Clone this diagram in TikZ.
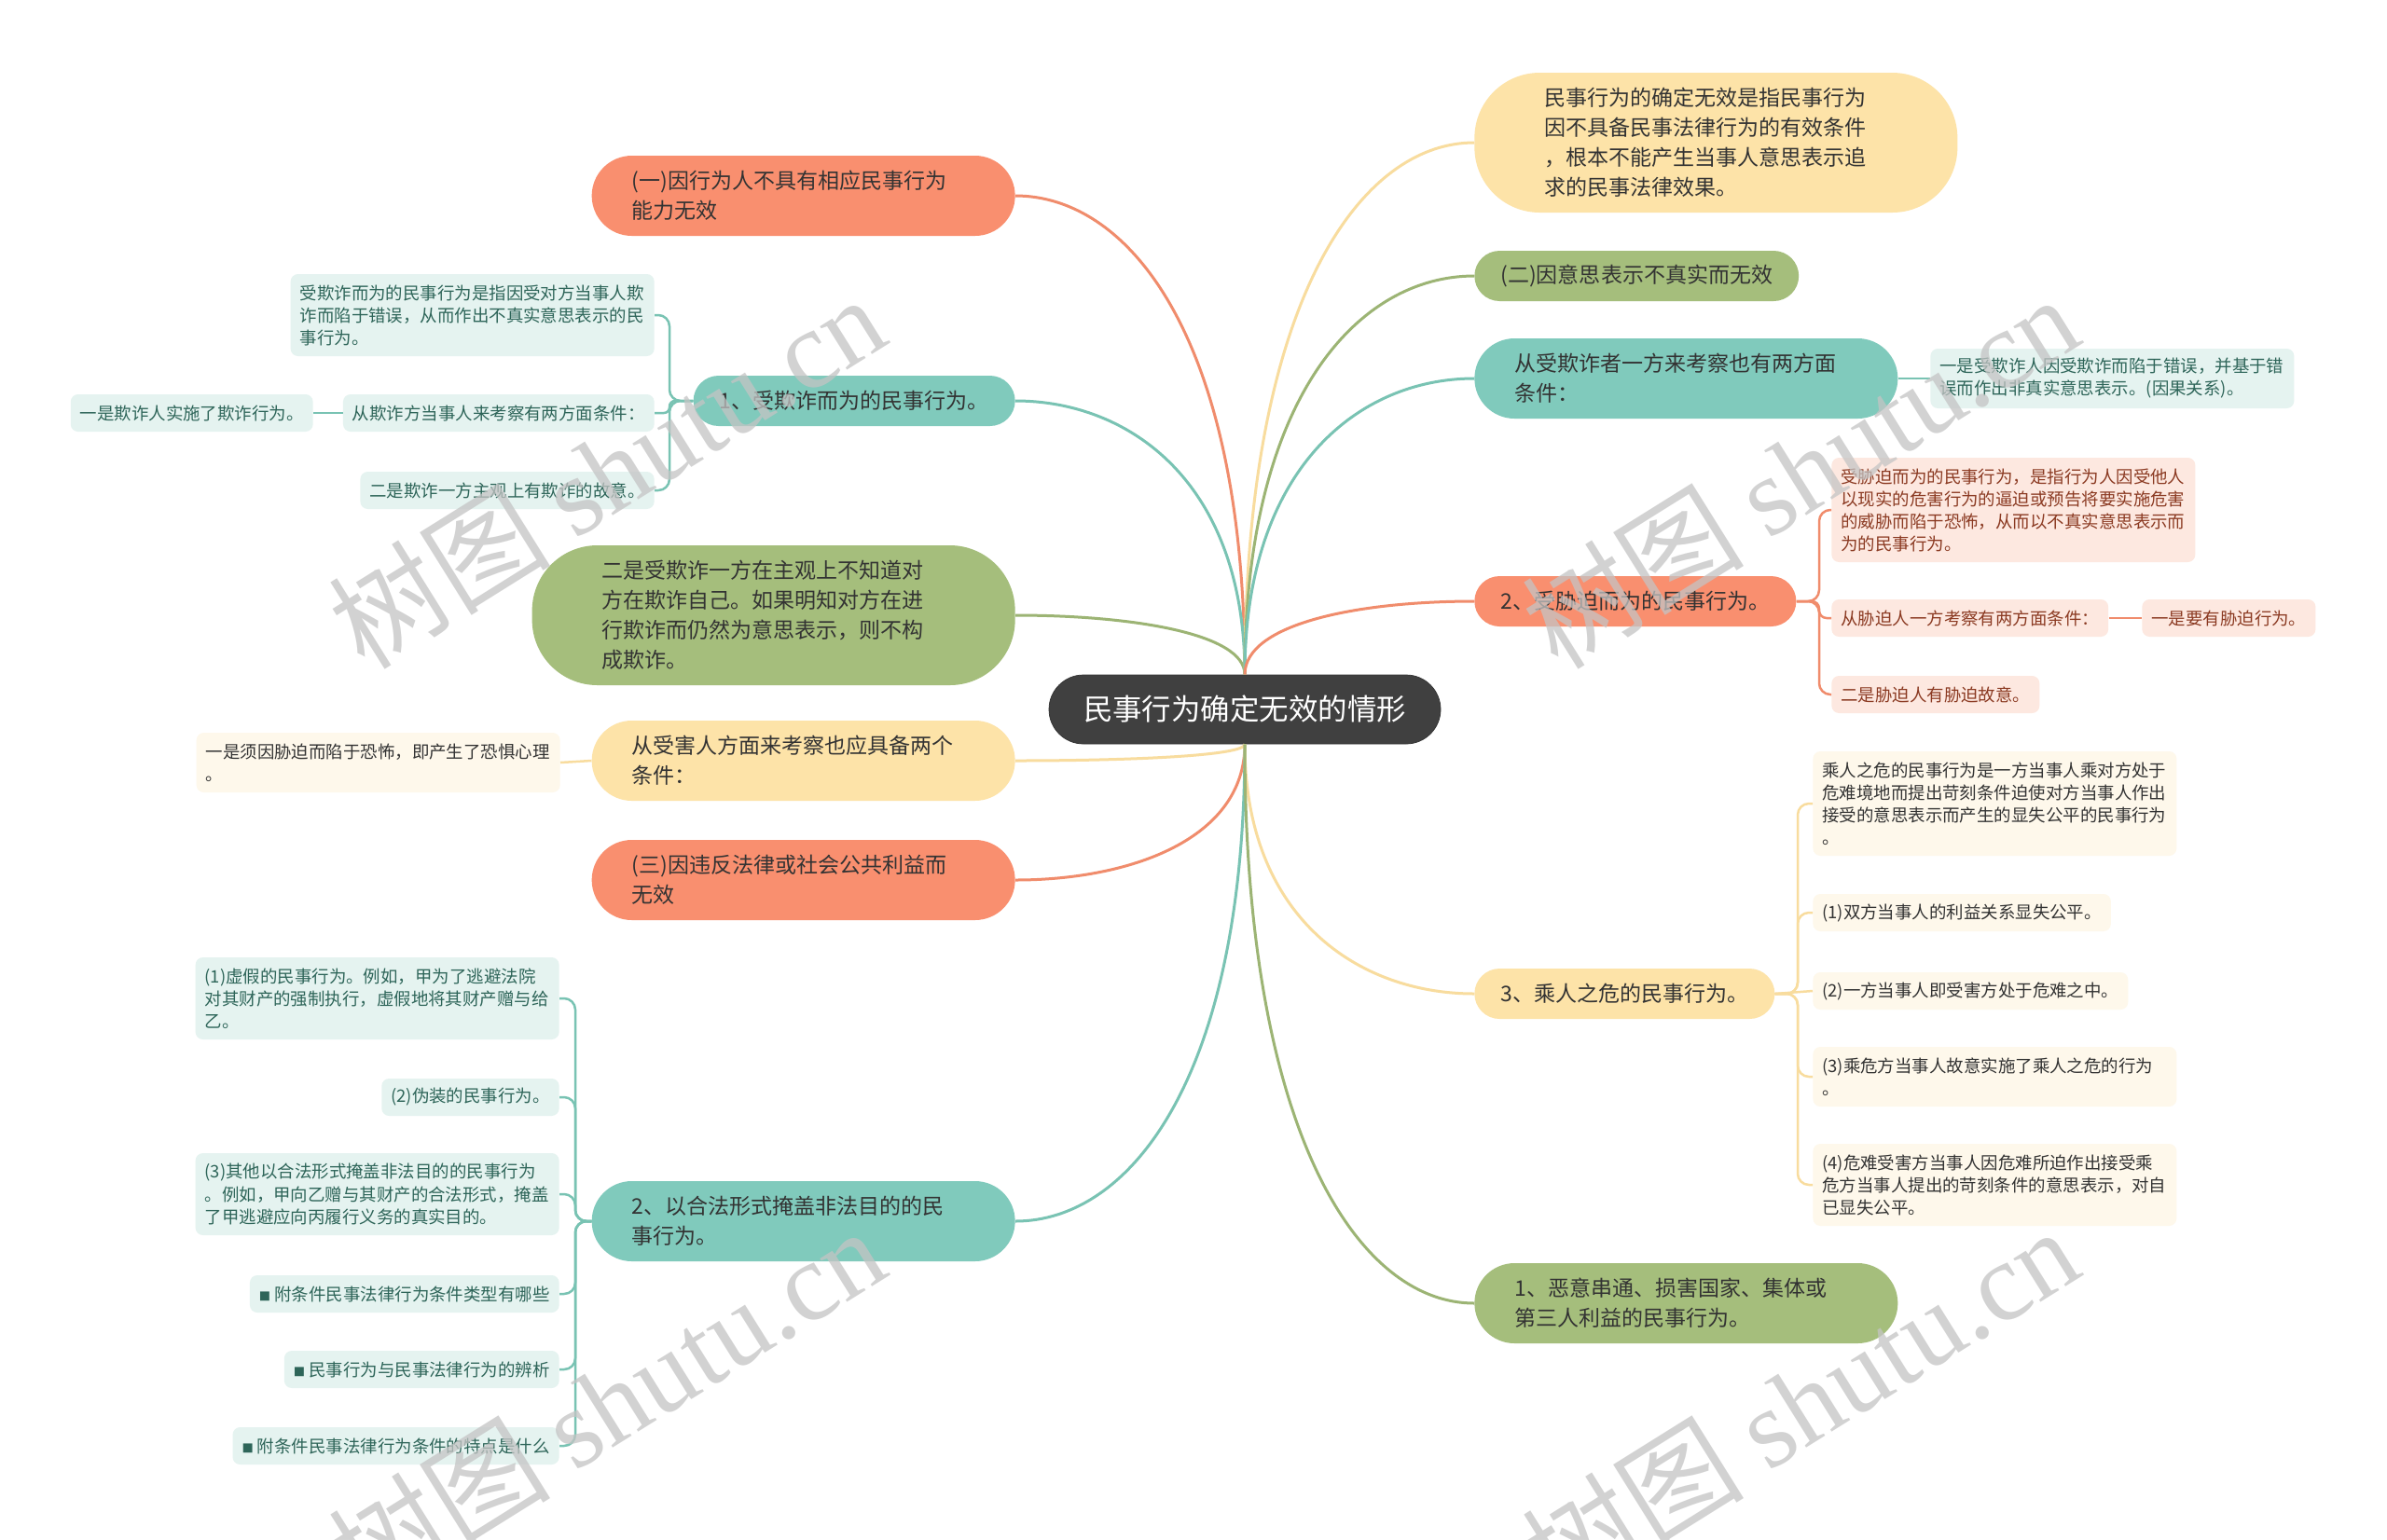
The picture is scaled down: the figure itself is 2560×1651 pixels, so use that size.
\documentclass[tikz,border=0pt]{standalone}
\usepackage{fontspec}
\setmainfont{Noto Sans CJK SC}
\newfontfamily\wmlatin{Liberation Serif}
\usepackage{tikz}
\usetikzlibrary{calc}
\definecolor{Core}{HTML}{404040}
\definecolor{Ink}{HTML}{333333}
\definecolor{Salmon}{HTML}{F98F6F}
\definecolor{SalmonLine}{HTML}{F08C6C}
\definecolor{SalmonLeaf}{HTML}{FDE8E0}
\definecolor{SalmonText}{HTML}{8B3A22}
\definecolor{Teal}{HTML}{80CABC}
\definecolor{TealLine}{HTML}{79C3B3}
\definecolor{TealLeaf}{HTML}{E5F3F0}
\definecolor{TealText}{HTML}{2E6559}
\definecolor{Olive}{HTML}{A5BE7C}
\definecolor{OliveLine}{HTML}{9CB474}
\definecolor{Sand}{HTML}{FDE3A8}
\definecolor{SandLine}{HTML}{F8DC9E}
\definecolor{SandLeaf}{HTML}{FEF8EB}
\definecolor{Mark}{HTML}{C4C4C4}
\newlength{\upx}
\setlength{\upx}{0.2mm}
\newcommand{\branch}[3]{\draw[main, #1] (#2) .. controls ($(#2)!0.7!(#2 |- #3)$) and ($(#3)!0.5!(#2 |- #3)$) .. (#3);}
\newcommand{\twig}[4]{\draw[sub, #1] (#2) -| (#3 |- #4) -- (#4);}

\begin{document}
\begin{tikzpicture}[x=0.2mm, y=-0.2mm,
    core/.style={fill=Core, draw=Core!80!black, text=white, rounded corners=37\upx, inner xsep=37\upx, minimum height=74\upx, font=\fontsize{17.9}{22}\selectfont},
    pill/.style={text=Ink, align=left, inner ysep=0pt, font=\fontsize{13.1}{18.2}\selectfont},
    one/.style={pill, rounded corners=27\upx, inner xsep=28\upx, minimum height=54\upx},
    two/.style={pill, rounded corners=43\upx, inner xsep=43\upx, minimum height=86\upx, text width=368\upx},
    four/.style={pill, rounded corners=70\upx, inner xsep=75\upx, minimum height=150\upx, text width=368\upx},
    leaf/.style={align=left, rounded corners=8\upx, inner xsep=10\upx, inner ysep=0pt, font=\fontsize{10.5}{13.66}\selectfont},
    tleaf/.style={leaf, fill=TealLeaf, text=TealText},
    sleaf/.style={leaf, fill=SalmonLeaf, text=SalmonText},
    yleaf/.style={leaf, fill=SandLeaf, text=Ink},
    wide/.style={text width=370\upx},
    nrows/.style={minimum height={(16+24*#1)*0.2mm}},
    main/.style={line width=3\upx},
    sub/.style={line width=2.5\upx, rounded corners=12\upx},
    wmark/.style={text=Mark, opacity=0.75, rotate=32, font=\fontsize{68}{68}\selectfont}]

    % Canvas
    \fill[white] (0,0) rectangle (2560,1651);
    \useasboundingbox (0,0) rectangle (2560,1651);

    % Centre
    \node[core] (ctr) at (1335,761) {民事行为确定无效的情形};

    % Left branches
    \node[two, fill=Salmon, anchor=east] (L1) at (1089,210) {(一)因行为人不具有相应民事行为\\能力无效};
    \node[one, fill=Teal, anchor=east] (L2) at (1089,430) {1、受欺诈而为的民事行为。};
    \node[four, fill=Olive, anchor=east] (L3) at (1089,660) {二是受欺诈一方在主观上不知道对\\方在欺诈自己。如果明知对方在进\\行欺诈而仍然为意思表示，则不构\\成欺诈。};
    \node[two, fill=Sand, anchor=east] (L4) at (1089,816) {从受害人方面来考察也应具备两个\\条件：};
    \node[two, fill=Salmon, anchor=east] (L5) at (1089,944) {(三)因违反法律或社会公共利益而\\无效};
    \node[two, fill=Teal, anchor=east] (L6) at (1089,1310) {2、以合法形式掩盖非法目的的民\\事行为。};

    % Right branches
    \node[four, fill=Sand, anchor=west] (R1) at (1581,153) {民事行为的确定无效是指民事行为\\因不具备民事法律行为的有效条件\\，根本不能产生当事人意思表示追\\求的民事法律效果。};
    \node[one, fill=Olive, anchor=west] (R2) at (1581,296) {(二)因意思表示不真实而无效};
    \node[two, fill=Teal, anchor=west] (R3) at (1581,406) {从受欺诈者一方来考察也有两方面\\条件：};
    \node[one, fill=Salmon, anchor=west] (R4) at (1581,645) {2、受胁迫而为的民事行为。};
    \node[one, fill=Sand, anchor=west] (R5) at (1581,1066) {3、乘人之危的民事行为。};
    \node[two, fill=Olive, anchor=west] (R6) at (1581,1398) {1、恶意串通、损害国家、集体或\\第三人利益的民事行为。};

    % Left leaves
    \node[tleaf, wide, nrows=3, anchor=east] (L2a) at (702,338) {受欺诈而为的民事行为是指因受对方当事人欺\\诈而陷于错误，从而作出不真实意思表示的民\\事行为。};
    \node[tleaf, nrows=1, anchor=east] (L2b) at (702,443) {从欺诈方当事人来考察有两方面条件：};
    \node[tleaf, nrows=1, anchor=east] (L2b1) at (336,443) {一是欺诈人实施了欺诈行为。};
    \node[tleaf, nrows=1, anchor=east] (L2c) at (702,526) {二是欺诈一方主观上有欺诈的故意。};
    \node[yleaf, wide, nrows=2, anchor=east] (L4a) at (601,818) {一是须因胁迫而陷于恐怖，即产生了恐惧心理\\。};
    \node[tleaf, wide, nrows=3, anchor=east] (L6a) at (600,1071) {(1)虚假的民事行为。例如，甲为了逃避法院\\对其财产的强制执行，虚假地将其财产赠与给\\乙。};
    \node[tleaf, nrows=1, anchor=east] (L6b) at (600,1177) {(2)伪装的民事行为。};
    \node[tleaf, wide, nrows=3, anchor=east] (L6c) at (600,1281) {(3)其他以合法形式掩盖非法目的的民事行为\\。例如，甲向乙赠与其财产的合法形式，掩盖\\了甲逃避应向丙履行义务的真实目的。};
    \node[tleaf, nrows=1, anchor=east] (L6d) at (600,1388) {{\fontsize{7}{7}\selectfont ■}\ 附条件民事法律行为条件类型有哪些};
    \node[tleaf, nrows=1, anchor=east] (L6e) at (600,1469) {{\fontsize{7}{7}\selectfont ■}\ 民事行为与民事法律行为的辨析};
    \node[tleaf, nrows=1, anchor=east] (L6f) at (600,1551) {{\fontsize{7}{7}\selectfont ■}\ 附条件民事法律行为条件的特点是什么};

    % Right leaves
    \node[tleaf, wide, nrows=2, anchor=west] (R3a) at (2070,406) {一是受欺诈人因受欺诈而陷于错误，并基于错\\误而作出非真实意思表示。(因果关系)。};
    \node[sleaf, wide, nrows=4, anchor=west] (R4a) at (1964,547) {受胁迫而为的民事行为，是指行为人因受他人\\以现实的危害行为的逼迫或预告将要实施危害\\的威胁而陷于恐怖，从而以不真实意思表示而\\为的民事行为。};
    \node[sleaf, nrows=1, anchor=west] (R4b) at (1964,663) {从胁迫人一方考察有两方面条件：};
    \node[sleaf, nrows=1, anchor=west] (R4b1) at (2297,663) {一是要有胁迫行为。};
    \node[sleaf, nrows=1, anchor=west] (R4c) at (1964,745) {二是胁迫人有胁迫故意。};
    \node[yleaf, wide, nrows=4, anchor=west] (R5a) at (1944,862) {乘人之危的民事行为是一方当事人乘对方处于\\危难境地而提出苛刻条件迫使对方当事人作出\\接受的意思表示而产生的显失公平的民事行为\\。};
    \node[yleaf, nrows=1, anchor=west] (R5b) at (1944,979) {(1)双方当事人的利益关系显失公平。};
    \node[yleaf, nrows=1, anchor=west] (R5c) at (1944,1063) {(2)一方当事人即受害方处于危难之中。};
    \node[yleaf, wide, nrows=2, anchor=west] (R5d) at (1944,1155) {(3)乘危方当事人故意实施了乘人之危的行为\\。};
    \node[yleaf, wide, nrows=3, anchor=west] (R5e) at (1944,1271) {(4)危难受害方当事人因危难所迫作出接受乘\\危方当事人提出的苛刻条件的意思表示，对自\\已显失公平。};

    % Main connectors
    \branch{SalmonLine}{ctr.north}{L1.east}
    \branch{TealLine}{ctr.north}{L2.east}
    \branch{OliveLine}{ctr.north}{L3.east}
    \branch{SandLine}{ctr.south}{L4.east}
    \branch{SalmonLine}{ctr.south}{L5.east}
    \branch{TealLine}{ctr.south}{L6.east}
    \branch{SandLine}{ctr.north}{R1.west}
    \branch{OliveLine}{ctr.north}{R2.west}
    \branch{TealLine}{ctr.north}{R3.west}
    \branch{SalmonLine}{ctr.north}{R4.west}
    \branch{SandLine}{ctr.south}{R5.west}
    \branch{OliveLine}{ctr.south}{R6.west}

    % Brackets
    \coordinate (L2j) at (718,430);
    \coordinate (L6j) at (617,1310);
    \coordinate (R4j) at (1951,645);
    \coordinate (R5j) at (1928,1066);
    \twig{TealLine}{L2.west}{L2j}{L2a.east}
    \twig{TealLine, rounded corners=6\upx}{L2.west}{L2j}{L2b.east}
    \twig{TealLine}{L2.west}{L2j}{L2c.east}
    \draw[sub, TealLine] (L2b.west) -- (L2b1.east);
    \draw[sub, SandLine] (L4.west) -- (L4a.east);
    \twig{TealLine}{L6.west}{L6j}{L6a.east}
    \twig{TealLine}{L6.west}{L6j}{L6b.east}
    \twig{TealLine}{L6.west}{L6j}{L6c.east}
    \twig{TealLine}{L6.west}{L6j}{L6d.east}
    \twig{TealLine}{L6.west}{L6j}{L6e.east}
    \twig{TealLine}{L6.west}{L6j}{L6f.east}
    \draw[sub, TealLine] (R3.east) -- (R3a.west);
    \twig{SalmonLine}{R4.east}{R4j}{R4a.west}
    \twig{SalmonLine, rounded corners=8\upx}{R4.east}{R4j}{R4b.west}
    \twig{SalmonLine}{R4.east}{R4j}{R4c.west}
    \draw[sub, SalmonLine] (R4b.east) -- (R4b1.west);
    \twig{SandLine}{R5.east}{R5j}{R5a.west}
    \twig{SandLine}{R5.east}{R5j}{R5b.west}
    \draw[sub, SandLine] (R5.east) -- (R5c.west);
    \twig{SandLine}{R5.east}{R5j}{R5d.west}
    \twig{SandLine}{R5.east}{R5j}{R5e.west}

    % Watermarks
    \node[wmark] (wm1) at (650,505) {树图\ {\wmlatin shutu.cn}};
    \node[wmark] (wm2) at (1930,505) {树图\ {\wmlatin shutu.cn}};
    \node[wmark] (wm3) at (650,1505) {树图\ {\wmlatin shutu.cn}};
    \node[wmark] (wm4) at (1930,1505) {树图\ {\wmlatin shutu.cn}};

\end{tikzpicture}
\end{document}
